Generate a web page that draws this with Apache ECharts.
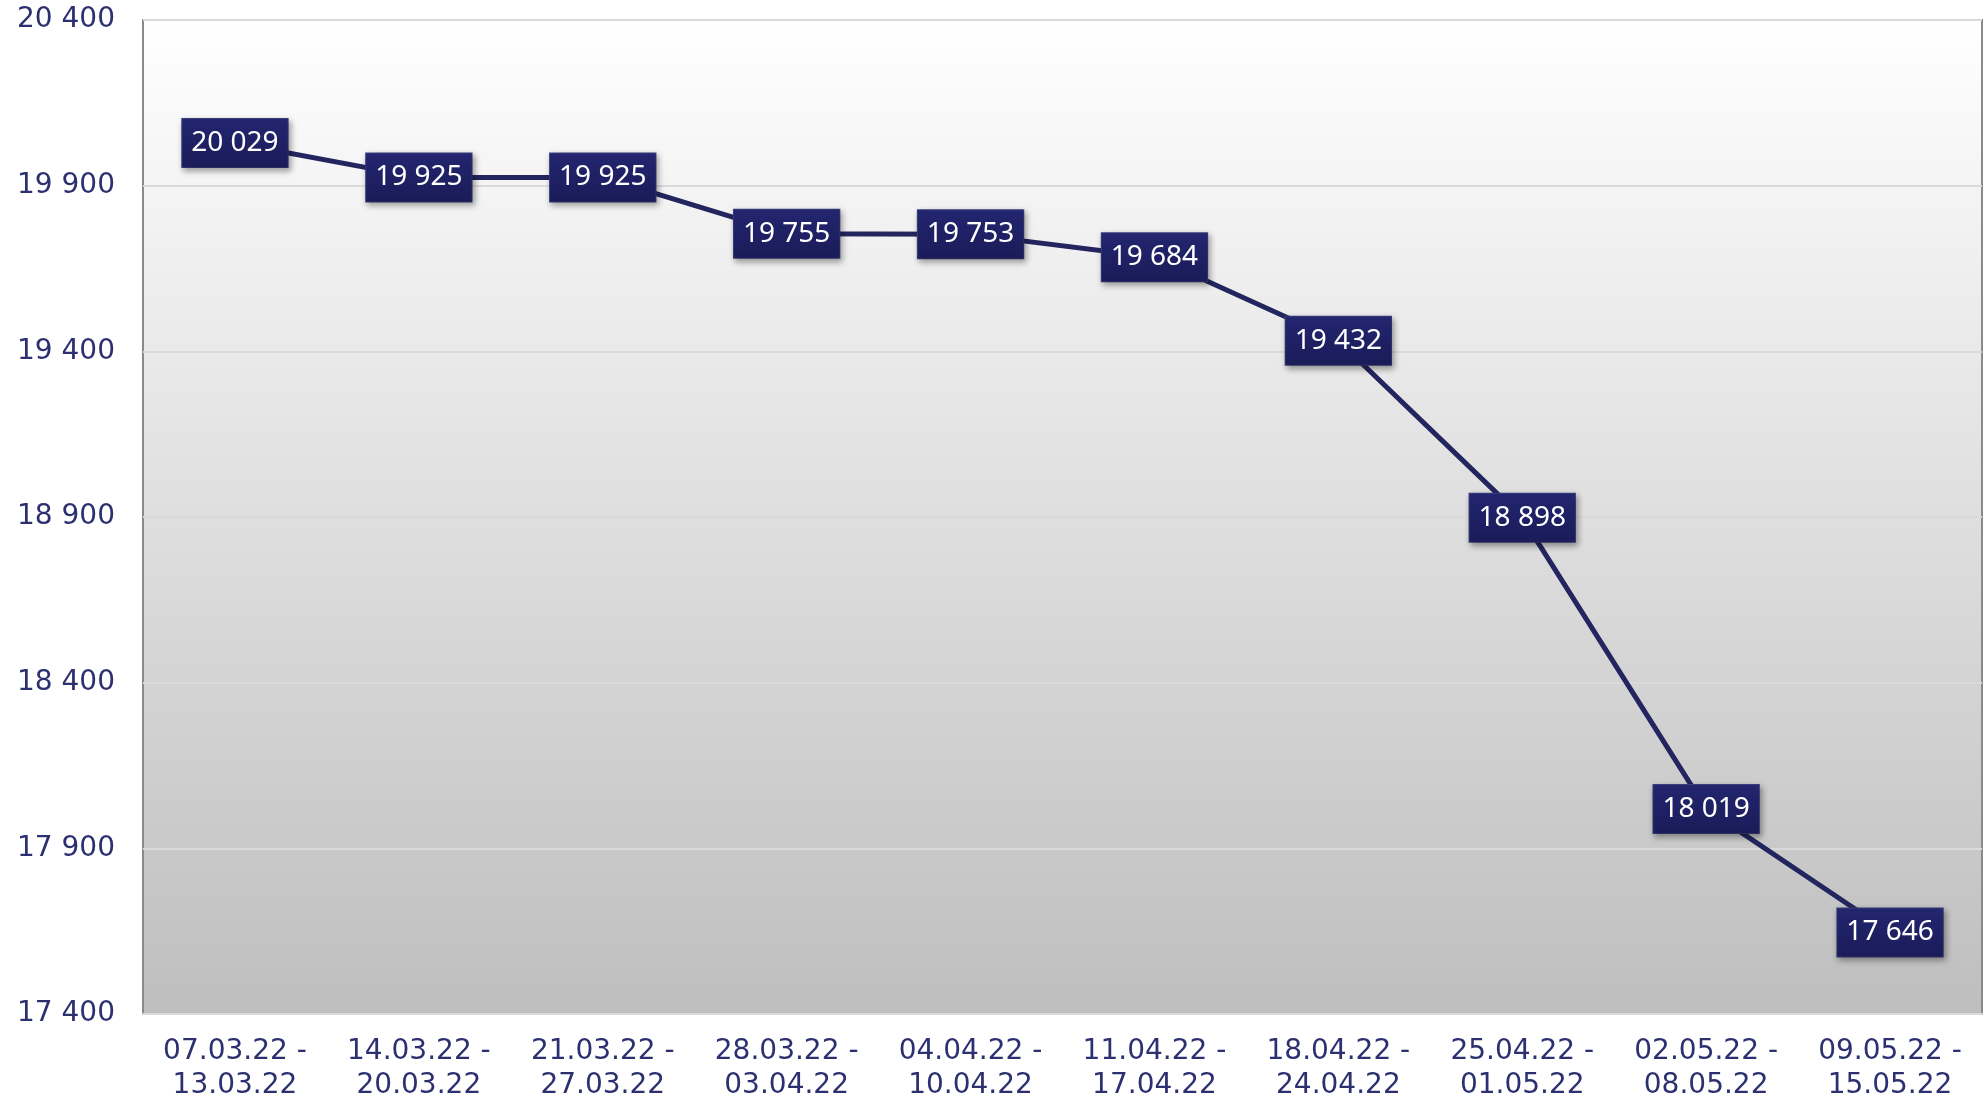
<!DOCTYPE html>
<html>
<head>
<meta charset="utf-8">
<script src="https://cdn.jsdelivr.net/npm/echarts@6/dist/echarts.min.js"></script>
<style>
html,body{margin:0;padding:0;background:#fff;}
#chart{width:1986px;height:1104px;}
</style>
</head>
<body>
<div id="chart"></div>
<script>
var categories = ['07.03.22 -\n13.03.22','14.03.22 -\n20.03.22','21.03.22 -\n27.03.22','28.03.22 -\n03.04.22','04.04.22 -\n10.04.22','11.04.22 -\n17.04.22','18.04.22 -\n24.04.22','25.04.22 -\n01.05.22','02.05.22 -\n08.05.22','09.05.22 -\n15.05.22'];
var values = [20029, 19925, 19925, 19755, 19753, 19684, 19432, 18898, 18019, 17646];
var yMin = 17400, yMax = 20400, yStep = 500;

function fmt(v){ return String(v).replace(/\B(?=(\d{3})+(?!\d))/g, ' '); }

var chart = echarts.init(document.getElementById('chart'), null, {renderer:'canvas'});
chart.setOption({
  animation:false,
  grid:{left:143, right:4, top:20, bottom:90, show:true, borderColor:'#8a8a8a', borderWidth:2,
    outerBoundsMode:'none', containLabel:false,
    backgroundColor:new echarts.graphic.LinearGradient(0,0,0,1,[{offset:0,color:'#ffffff'},{offset:1,color:'#bebebe'}])},
  xAxis:{type:'category', data:categories, boundaryGap:true,
    axisLine:{show:true, lineStyle:{color:'#dadada', width:2}},
    axisTick:{show:false},
    axisLabel:{fontFamily:'DejaVu Sans', fontSize:28, color:'#2c3070', lineHeight:34, margin:21, interval:0}},
  yAxis:{type:'value', min:yMin, max:yMax, interval:yStep,
    axisLine:{show:false}, axisTick:{show:false},
    splitLine:{show:true, lineStyle:{color:'#dadada', width:2}},
    axisLabel:{fontFamily:'DejaVu Sans', fontSize:28, color:'#2c3070', margin:28, formatter:fmt}},
  series:[{type:'line', data:values, symbol:'circle', symbolSize:1, showSymbol:true,
    lineStyle:{color:'#23255f', width:5}, itemStyle:{color:'#23255f'},
    label:{show:true, position:'inside', formatter:function(p){return fmt(p.value);},
      fontFamily:'Noto Sans', fontSize:28, lineHeight:28, color:'#ffffff',
      backgroundColor:new echarts.graphic.LinearGradient(0,0,0,1,[{offset:0,color:'#232670'},{offset:1,color:'#1a1b58'}]),
      borderColor:'#3d4080', borderWidth:1,
      padding:[11,9,9,9],
      shadowColor:'rgba(0,0,0,0.35)', shadowBlur:6, shadowOffsetX:2, shadowOffsetY:3}
  }]
});
</script>
</body>
</html>
